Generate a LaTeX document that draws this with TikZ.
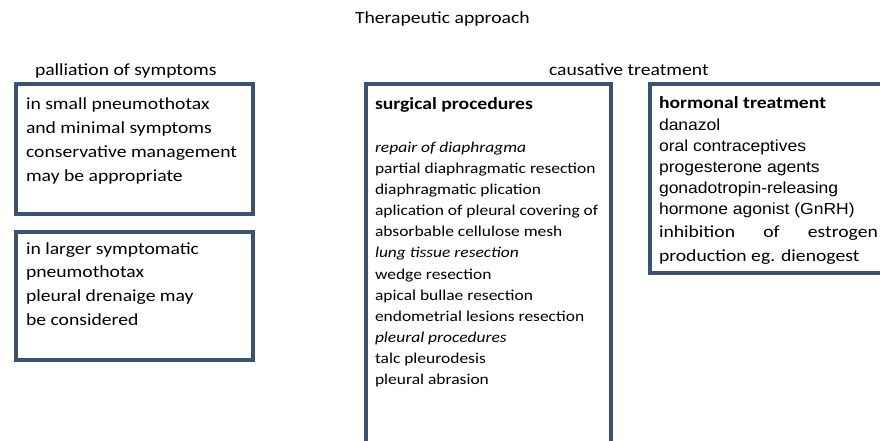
\documentclass[tikz,border=0pt]{standalone}
\usepackage{fontspec}
\usepackage{graphicx}
\setmainfont{Carlito}
\newfontfamily\arialf{Liberation Sans}
\definecolor{boxblue}{RGB}{59,83,112}
\newcommand{\hs}[1]{\scalebox{1.156}[1]{#1}}
\newcommand{\ha}[1]{\scalebox{1.095}[1]{#1}}
\begin{document}
\begin{tikzpicture}[x=1pt,y=-1pt,
  frame/.style={draw=boxblue, line width=4pt, rectangle, inner sep=0pt, outer sep=0pt, anchor=north west},
  txt/.style={anchor=base west, inner sep=0pt, outer sep=0pt}]
\clip (0,0) rectangle (880,441);
% frames
\node[frame, minimum width=237pt, minimum height=129pt] (b1) at (16,84.5) {};
\node[frame, minimum width=237pt, minimum height=128pt] (b2) at (16,232) {};
\node[frame, minimum width=245.5pt, minimum height=390pt] (b3) at (365.5,84.5) {};
\node[frame, minimum width=250pt, minimum height=188.5pt] (b4) at (650,84.5) {};
% headings
\node[txt] (title) at (355,24) {\hs{\fontsize{17}{24}\selectfont Therapeutic approach}};
\node[txt] (pal) at (35,75.5) {\hs{\fontsize{17}{24}\selectfont palliation of symptoms}};
\node[txt] (cau) at (549,76) {\hs{\fontsize{17}{24}\selectfont causative treatment}};
% box 1
\node[txt] (t1) at (26,110) {\hs{\fontsize{17}{24}\selectfont\begin{tabular}[t]{@{}l@{}}
in small pneumothotax\\
and minimal symptoms\\
conservative management\\
may be appropriate
\end{tabular}}};
% box 2
\node[txt] (t2) at (26,254) {\hs{\fontsize{17}{23.8}\selectfont\begin{tabular}[t]{@{}l@{}}
in larger symptomatic\\
pneumothotax\\
pleural drenaige may\\
be considered
\end{tabular}}};
% box 3
\node[txt] (h3) at (375,109.3) {\hs{\fontsize{17}{24}\selectfont\bfseries surgical procedures}};
\node[txt] (t3) at (375,152) {\hs{\fontsize{15.1}{21.18}\selectfont\begin{tabular}[t]{@{}l@{}}
\textit{repair of diaphragma}\\
partial diaphragmatic resection\\
diaphragmatic plication\\
aplication of pleural covering of\\
absorbable cellulose mesh\\
\textit{lung tissue resection}\\
wedge resection\\
apical bullae resection\\
endometrial lesions resection\\
\textit{pleural procedures}\\
talc pleurodesis\\
pleural abrasion
\end{tabular}}};
% box 4
\node[txt] (h4) at (659,108.3) {\hs{\fontsize{17}{24}\selectfont\bfseries hormonal treatment}};
\node[txt] (t4) at (659,130.5) {\ha{\arialf\fontsize{16}{21}\selectfont\begin{tabular}[t]{@{}l@{}}
danazol\\
oral contraceptives\\
progesterone agents\\
gonadotropin-releasing\\
hormone agonist (GnRH)
\end{tabular}}};
\node[txt] (t5) at (659,237.5) {\hs{\fontsize{17}{24}\selectfont\begin{tabular}[t]{@{}l@{}}
\makebox[189.4pt][s]{inhibition\hfill of\hfill estrogen}\\
production eg. dienogest
\end{tabular}}};
\end{tikzpicture}
\end{document}
